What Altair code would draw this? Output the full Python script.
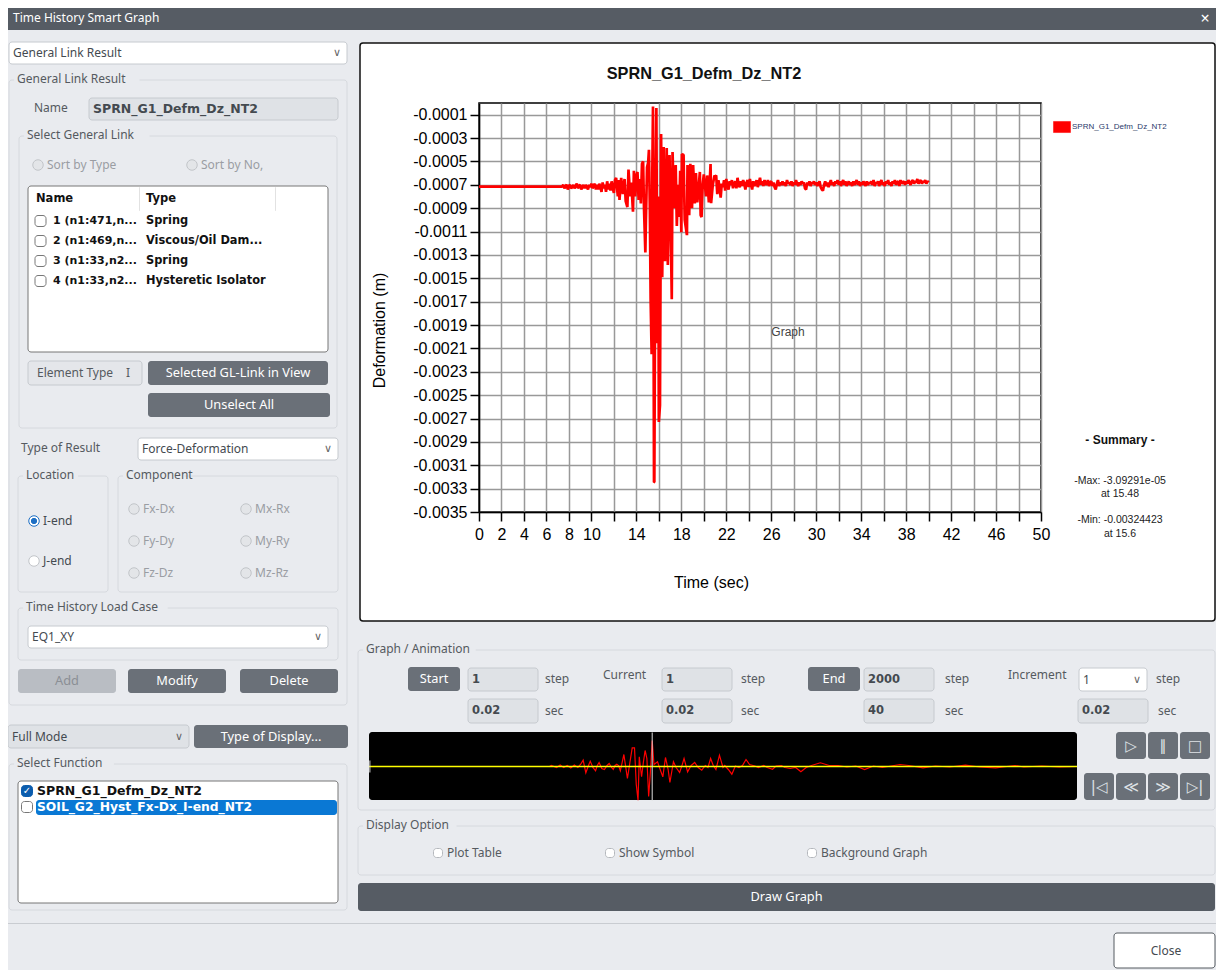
import altair as alt
import pandas as pd

# ---------- chart values ----------
# quiet lead-in, sparse
lead_t = [0, 7.4]
lead_mm = [.715, .715]

# first tremors, read every 0.1 s from 7.5 s
early_mm = [.70, .73, .71, .70, .74, .71, .70, .73, .72, .70,
            .73, .71, .69, .73, .71, .70, .74, .72, .70, .73,
            .70, .72, .74, .70, .72, .69, .73, .71, .69, .74,
            .70, .74, .69, .72, .76, .68, .73, .70, .76, .67,
            .74, .69, .75, .67, .73, .77, .66]

# strong motion, read at each visible spike
mid_t = [12.2, 12.35, 12.45, 12.5,
         12.65, 12.8, 12.95, 13.05, 13.2, 13.3, 13.45, 13.55, 13.7, 13.78, 13.9, 14.0, 14.1, 14.2, 14.3, 14.4,
         14.5, 14.6, 14.68, 14.8, 14.85, 14.95, 15.05, 15.12, 15.2, 15.27, 15.36, 15.42, 15.48, 15.57, 15.6, 15.7,
         15.78, 15.87, 15.95, 16.0, 16.1, 16.2, 16.3, 16.43, 16.55, 16.7, 16.8, 16.95, 17.05, 17.15, 17.22, 17.35,
         17.5, 17.6, 17.7, 17.8, 17.9, 18.0, 18.05, 18.2, 18.3, 18.5, 18.55, 18.7, 18.8, 18.95, 19.05, 19.2,
         19.3, 19.42, 19.5, 19.65, 19.72, 19.8, 19.9, 20.0, 20.2, 20.3, 20.45, 20.6, 20.65, 20.8, 20.95]
mid_mm = [.64, .80, .66, .83,
          .64, .78, .65, .84, .89, .57, .80, .68, .93, .58, .80, .62, .59, .83, .65, .86,
          .52, .50, .90, 1.28, 1.0, .55, .51, .40, .90, 1.68, 2.15, .60, .031, 3.245, 3.244, .80,
          .043, 2.056, .80, 2.73, 2.587, .266, 1.49, .377, 1.353, .385, 1.387, .445, 1.0, 1.679, .42, .90,
          .53, 1.053, .70, .976, .58, 1.105, .437, .445, 1.0, 1.131, .531, .96, .52, .90, .53, .86,
          .60, .85, .78, .59, .96, .976, .70, .61, .80, .62, .85, .522, .857, .70, .62]

# coda, read every 0.1 s from 21 s
late_mm = [.63, .62, .78, .66, .72, .81, .69, .72, .66, .75,
           .65, .71, .74, .67, .70, .66, .73, .69, .67, .73,
           .64, .70, .72, .67, .71, .66, .69, .74, .68, .66,
           .72, .65, .70, .74, .67, .71, .69, .66, .72, .68,
           .64, .70, .67, .71, .66, .69, .70, .66, .71, .68,
           .67, .71, .68, .72, .74, .69, .66, .71, .68, .70,
           .67, .70, .68, .71, .66, .69, .68, .70, .67, .71,
           .68, .70, .66, .69, .71, .68, .70, .67, .69, .68,
           .73, .74, .68, .70, .67, .71, .68, .69, .67, .70,
           .68, .71, .69, .67, .72, .74, .75, .70, .67, .71,
           .68, .72, .69, .66, .70, .68, .71, .67, .69, .66,
           .70, .67, .71, .68, .66, .70, .67, .71, .69, .67,
           .70, .68, .71, .67, .70, .68, .66, .70, .67, .71,
           .68, .70, .67, .69, .71, .67, .70, .68, .69, .67,
           .70, .66, .71, .68, .69, .67, .71, .68, .66, .70,
           .68, .71, .67, .69, .66, .70, .68, .71, .67, .69,
           .66, .70, .68, .67, .71, .66, .69, .68, .67, .70,
           .67, .69, .66, .68, .70, .67, .66, .69, .67, .68,
           .65, .69, .67, .66, .69, .67, .68, .66, .69, .67,
           .68]

early_t = [round(7.5 + 0.1 * i, 1) for i in range(len(early_mm))]
late_t = [round(21 + 0.1 * i, 1) for i in range(len(late_mm))]
time_s = lead_t + early_t + mid_t + late_t
deform_mm = lead_mm + early_mm + mid_mm + late_mm

strip_t = [0, 10.2, 10.3, 10.6, 10.8, 11.0, 11.2, 11.4, 11.6, 11.8,
           11.95, 12.1, 12.25, 12.4, 12.5, 12.65, 12.8, 12.9, 13.0, 13.15,
           13.3, 13.45, 13.57, 13.7, 13.8, 13.9, 14.0, 14.1, 14.2, 14.4,
           14.6, 14.87, 15.0, 15.1, 15.2, 15.27, 15.4, 15.5, 15.6, 15.7,
           15.8, 15.9, 16.0, 16.1, 16.3, 16.45, 16.6, 16.75, 16.9, 17.0,
           17.2, 17.35, 17.55, 17.7, 17.8, 18.0, 18.2, 18.4, 18.6, 18.8,
           19.0, 19.15, 19.3, 19.45, 19.6, 19.8, 20.0, 20.1, 20.3, 20.5,
           20.7, 20.9, 21.1, 21.3, 21.5, 21.8, 22.0, 22.3, 22.5, 22.8,
           23.0, 23.3, 23.5, 23.8, 24.1, 24.4, 24.7, 25.0, 25.5, 26.0,
           26.5, 27.0, 27.5, 28.0, 28.5, 29.0, 29.5, 30.0, 30.5, 31.3,
           32.0, 32.8, 33.7, 34.5, 35.4, 36.5, 37.0, 38.0, 39.0, 40.0]
strip_amp = [0, 0, 1, -1, 1.5, -1, 1, -1.5, 1.5, -1,
             2, 6.3, -6.3, 1, 5.3, -1, -4.3, 1, 4, -2,
             -3, 1, 3, -1, -3, 1, 2.3, 1, -4.3, 12,
             -12, 18.7, 18.7, -18, -33.7, 9.7, -10.3, 4, 16, 8,
             -30, -5, 26, 2, 4.7, -3, -10.3, 9, -3, -16,
             4.7, -1, -6, 2, 8, -5.3, 1, 4, -1, -3.7,
             1, -1, 8, 1, -3, 11.3, -1, 1, -3, -7.7,
             0.5, -1, 1, 7, 2, 0.5, -1, 1, -1, -2.7,
             0.5, 1, -1, -2, -1, -5.3, -1, 1, 3.7, 1,
             1, -.5, .5, -3, .5, -1, .5, 2, 1, -1.3,
             .5, -.5, 1.3, -.5, -1.3, 1, -.5, .5, -.5, 0]

x_ticks = list(range(0, 52, 2))
y_ticks = [-0.0001, -0.0003, -0.0005, -0.0007, -0.0009, -0.0011, -0.0013, -0.0015, -0.0017,
           -0.0019, -0.0021, -0.0023, -0.0025, -0.0027, -0.0029, -0.0031, -0.0033, -0.0035]

SERIES = "SPRN_G1_Defm_Dz_NT2"
PL, PT, PW, PH = 479, 103, 562, 409    # plot box on the page


# ---------- dialog furniture helpers (page pixels) ----------
BG = "#e9ebef"; DARK = "#6a7078"; BAR = "#565c64"; FIELD = "#dfe2e6"; EDGE = "#c6cacf"; GROUP = "#d6d9de"
GREY = "#9a9da3"; INK = "#333333"; BOLD = "DejaVu Sans"
boxes, flat, texts, dots = [], [], [], []
RIGHT = 1215


def box(x0, y0, x1, y1, fill="transparent", stroke="transparent", sw=1.0, store=None):
    (boxes if store is None else store).append(dict(x=x0 - PL, y=y0 - PT, x2=x1 - PL, y2=y1 - PT, f=fill, s=stroke, w=sw))


def text(x, y, t, color=INK, size=12, align="left", weight="normal", font="Noto Sans"):
    texts.append(dict(x=x - PL, y=y - PT, t=t, c=color, z=size, a=align, b=weight, n=font))


def dot(cx, cy, fill="#e3e5e8", stroke="#c2c5c9", area=110):
    dots.append(dict(x=cx - PL, y=cy - PT, f=fill, s=stroke, r=area))


def group(x0, y0, x1, y1, label):
    box(x0, y0, x1, y1, stroke=GROUP)
    box(x0 + 5, y0 - 3, x0 + 9 + len(label) * 6.4, y0 + 3, fill=BG)
    text(x0 + 8, y0 - 1.5, label, "#555a60")


def button(x0, y0, x1, y1, label, fill=DARK, color="white"):
    box(x0, y0, x1, y1, fill=fill)
    text((x0 + x1) / 2, (y0 + y1) / 2, label, color, size=12.8, align="center")


def field(x0, y0, x1, y1, label, size=11.5):
    box(x0, y0, x1, y1, fill=FIELD, stroke=EDGE)
    text(x0 + 4, (y0 + y1) / 2, label, "#444a50", size=size, weight="bold", font=BOLD)


def combo(x0, y0, x1, y1, label, fill="white"):
    box(x0, y0, x1, y1, fill=fill, stroke=EDGE)
    text(x0 + 4, (y0 + y1) / 2, label, "#444a50")
    text(x1 - 10, (y0 + y1) / 2, "∨", "#666666", size=11, align="center", font="DejaVu Sans")


def check(cx, cy, on=False, edge="#777777", half=5.5):
    box(cx - half, cy - half, cx + half, cy + half, fill="#0b5cad" if on else "white", stroke="#0b5cad" if on else edge)
    if on:
        text(cx, cy, "✓", "white", size=10, align="center", weight="bold", font="DejaVu Sans")


# window body around the graph panel (the panel itself stays the page's white)
for r in [(0, 0, 1224, 43), (0, 43, 360, 621), (RIGHT, 43, 1224, 621), (0, 621, 1224, 978)]:
    box(*r, fill=BG, store=flat)
box(0, 0, 1224, 30, fill=BAR, store=flat)
box(0, 923, 1224, 924, fill="#c9ccd1", store=flat)
text(13, 18, "Time History Smart Graph", "white")
text(1205, 19, "×", "white", size=16, align="center")
box(360, 43, RIGHT, 621, stroke="#111111", sw=1.5)

# left column
combo(9, 42, 347, 64, "General Link Result")
group(9, 80, 347, 705, "General Link Result")
text(34, 108, "Name", "#555a60")
field(89, 98, 338, 120, SERIES, size=12.5)
group(19, 136, 337, 428, "Select General Link")
dot(38, 165)
dot(192, 165)
text(47, 165, "Sort by Type", GREY)
text(201, 165, "Sort by No,", GREY)
box(28, 186, 328, 352, fill="white", stroke="#777777")
text(36, 199, "Name", "#111111", size=11.5, weight="bold", font=BOLD)
text(146, 199, "Type", "#111111", size=11.5, weight="bold", font=BOLD)
box(139, 187, 140, 211, fill="#e2e2e2")
box(275, 187, 276, 211, fill="#e2e2e2")
rows = [("1 (n1:471,n...", "Spring"), ("2 (n1:469,n...", "Viscous/Oil Dam..."),
        ("3 (n1:33,n2...", "Spring"), ("4 (n1:33,n2...", "Hysteretic Isolator")]
for i, (a, b) in enumerate(rows):
    y = 221 + 20 * i
    check(40.5, y)
    text(53, y, a, "#111111", size=11, weight="bold", font=BOLD)
    text(146, y, b, "#111111", size=11.4, weight="bold", font=BOLD)
box(28, 361, 142, 385, fill="#e4e6ea", stroke=EDGE)
text(37, 373, "Element Type", "#555a60")
text(126, 373, "I", "#555a60")
button(148, 361, 328, 385, "Selected GL-Link in View")
button(148, 393, 330, 417, "Unselect All")
text(21, 448, "Type of Result", "#555a60")
combo(138, 438, 338, 460, "Force-Deformation")
group(18, 476, 108, 592, "Location")
group(118, 476, 338, 592, "Component")
dot(34, 521, "white", "#1e6fc4")
dot(34, 521, "#1e6fc4", "#1e6fc4", 28)
dot(34, 561, "white", "#c2c5c9")
text(43, 521, "I-end", "#444a50")
text(43, 561, "J-end", "#444a50")
for y, a, b in [(509, "Fx-Dx", "Mx-Rx"), (541, "Fy-Dy", "My-Ry"), (573, "Fz-Dz", "Mz-Rz")]:
    dot(134, y)
    dot(246, y)
    text(143, y, a, GREY)
    text(255, y, b, GREY)
group(18, 608, 338, 660, "Time History Load Case")
combo(28, 626, 328, 648, "EQ1_XY")
button(18, 669, 116, 693, "Add", fill="#b9bdc3", color="#8b8f95")
button(128, 669, 226, 693, "Modify")
button(240, 669, 338, 693, "Delete")
combo(8, 725, 189, 748, "Full Mode", fill=FIELD)
button(194, 725, 348, 748, "Type of Display...")
group(9, 764, 347, 910, "Select Function")
box(18, 781, 338, 903, fill="white", stroke="#777777")
box(36, 800, 337, 815, fill="#0a78d4")
check(27, 791, True)
check(27, 807)
text(37, 791, SERIES, "#111111", size=12.5, weight="bold", font=BOLD)
text(37, 807, "SOIL_G2_Hyst_Fx-Dx_I-end_NT2", "white", size=12.3, weight="bold", font=BOLD)

# animation controls
group(358, 650, RIGHT, 810, "Graph / Animation")
button(408, 667, 460, 691, "Start")
button(808, 667, 860, 691, "End")
text(603, 675, "Current", "#555a60")
text(1008, 675, "Increment", "#555a60")
for x0, a, b, gap in [(468, "1", "0.02", 77), (662, "1", "0.02", 79), (864, "2000", "40", 81)]:
    field(x0, 668, x0 + 70, 691, a)
    field(x0, 699, x0 + 70, 723, b)
    text(x0 + gap, 679, "step", "#555a60")
    text(x0 + gap, 711, "sec", "#555a60")
combo(1079, 668, 1147, 691, "1")
field(1078, 699, 1148, 723, "0.02")
text(1156, 679, "step", "#555a60")
text(1158, 711, "sec", "#555a60")
box(369, 732, 1077, 800, fill="black")
for x0, y0, g in [(1116, 732, "▷"), (1148, 732, "∥"), (1180, 732, "□"), (1084, 773, "|◁"),
                  (1116, 773, "≪"), (1148, 773, "≫"), (1180, 773, "▷|")]:
    box(x0, y0, x0 + 30, y0 + 27, fill=DARK)
    text(x0 + 15, y0 + 13.5, g, "#dfe2e6", size=15, align="center", font="DejaVu Sans")

# display options and footer
group(358, 826, RIGHT, 875, "Display Option")
for cx, lab in [(438, "Plot Table"), (610, "Show Symbol"), (812, "Background Graph")]:
    check(cx, 853, edge="#b5b8bd", half=4.5)
    text(cx + 9, 853, lab, "#555a60")
button(358, 883, RIGHT, 911, "Draw Graph", fill=BAR)
box(1114, 933, RIGHT, 968, fill="white", stroke="#555a60")
text(1166, 950.5, "Close", "#444a50", align="center")

# captions inside the graph panel
A = "Liberation Sans"
text(704, 74, SERIES, "#111111", size=16.3, align="center", weight="bold", font=A)
text(788, 332, "Graph", "#444444", size=12, align="center", font=A)
text(1120, 440, "- Summary -", "#111111", size=12, align="center", weight="bold", font=A)
text(1120, 481, "-Max: -3.09291e-05", "#222222", size=10.5, align="center", font=A)
text(1120, 494, "at 15.48", "#222222", size=10.5, align="center", font=A)
text(1120, 520, "-Min: -0.00324423", "#222222", size=10.5, align="center", font=A)
text(1120, 534, "at 15.6", "#222222", size=10.5, align="center", font=A)


# ---------- layers ----------
def rect_layer(rows, radius):
    return alt.Chart(pd.DataFrame(rows)).mark_rect(cornerRadius=radius).encode(
        x=alt.X("x:Q", scale=None, axis=None), x2="x2:Q",
        y=alt.Y("y:Q", scale=None, axis=None), y2="y2:Q",
        fill=alt.Fill("f:N", scale=None, legend=None),
        stroke=alt.Stroke("s:N", scale=None, legend=None),
        strokeWidth=alt.StrokeWidth("w:Q", scale=None, legend=None),
    )


def dot_layer():
    return alt.Chart(pd.DataFrame(dots)).mark_point(shape="circle", filled=True, opacity=1, strokeWidth=1).encode(
        x=alt.X("x:Q", scale=None, axis=None),
        y=alt.Y("y:Q", scale=None, axis=None),
        fill=alt.Fill("f:N", scale=None, legend=None),
        stroke=alt.Stroke("s:N", scale=None, legend=None),
        size=alt.Size("r:Q", scale=None, legend=None),
    )


def text_layers():
    out = []
    df = pd.DataFrame(texts)
    for (a, b, n), part in df.groupby(["a", "b", "n"]):
        out.append(alt.Chart(part).mark_text(align=a, baseline="middle", fontWeight=b, font=n).encode(
            x=alt.X("x:Q", scale=None, axis=None),
            y=alt.Y("y:Q", scale=None, axis=None),
            text="t:N",
            fill=alt.Fill("c:N", scale=None, legend=None),
            size=alt.Size("z:Q", scale=None, legend=None),
        ))
    return out


main_df = pd.DataFrame({"t": time_s, "v": [-m / 1000 for m in deform_mm], "series": SERIES})
line = alt.Chart(main_df).mark_line(strokeWidth=2.7, strokeJoin="bevel", clip=True).encode(
    x=alt.X("t:Q", scale=alt.Scale(domain=[0, 50], nice=False),
            axis=alt.Axis(values=x_ticks, grid=True, gridColor="#999999", gridWidth=1.5, tickColor="black",
                          tickSize=9, tickWidth=1.5, domainColor="black", domainWidth=1.5,
                          labelColor="black", labelFontSize=16, labelFont=A, labelPadding=5, labelFlush=False,
                          labelOverlap=False,
                          labelExpr="datum.value<=10 || (datum.value-10)%4==0 ? datum.label : ''",
                          title="Time (sec)", titleFont=A, titleFontSize=16, titleFontWeight="normal",
                          titleColor="black", titleX=232, titleY=62)),
    y=alt.Y("v:Q", scale=alt.Scale(domain=[-0.0035, 0], nice=False),
            axis=alt.Axis(values=y_ticks, grid=True, gridColor="#999999", gridWidth=1.5, tickColor="black",
                          tickSize=9, tickWidth=1.5, domainColor="black", domainWidth=1.5,
                          labelColor="black", labelFontSize=16, labelFont=A, labelPadding=3, labelOverlap=False,
                          labelExpr="'-' + format(abs(datum.value), '.4f')",
                          title="Deformation (m)", titleFont=A, titleFontSize=16, titleFontWeight="normal",
                          titleColor="black", titleX=-92, titleY=227)),
    color=alt.Color("series:N", scale=alt.Scale(domain=[SERIES], range=["#ff0000"]),
                    legend=alt.Legend(orient="none", legendX=574, legendY=15, title=None,
                                      symbolType="M-1,-0.65H1V0.65H-1Z", symbolSize=290,
                                      symbolFillColor="#ff0000", symbolStrokeColor="#222222", symbolStrokeWidth=0.5,
                                      labelFont=A, labelFontSize=8, labelColor="#2a3a6a", labelLimit=200,
                                      labelOffset=1)),
)

STRIP_X = alt.Scale(domain=[0, 40], range=[369 - PL, 1077 - PL], nice=False, zero=False)
STRIP_Y = alt.Scale(domain=[-34, 34], range=[800.5 - PT, 732.5 - PT], nice=False, zero=False)
strip_df = pd.DataFrame({"t": strip_t, "a": strip_amp})
strip = alt.Chart(strip_df).mark_line(color="#ff0000", strokeWidth=1.2).encode(
    x=alt.X("t:Q", scale=STRIP_X, axis=None), y=alt.Y("a:Q", scale=STRIP_Y, axis=None))
level = alt.Chart(pd.DataFrame({"t": [0, 40], "a": [0, 0]})).mark_line(color="#ffff00", strokeWidth=1.4).encode(
    x=alt.X("t:Q", scale=STRIP_X, axis=None), y=alt.Y("a:Q", scale=STRIP_Y, axis=None))
cursor = alt.Chart(pd.DataFrame({"t": [16.0, 0.05], "lo": [-34, -6], "hi": [34, 6]})).mark_rule(color="#dddddd", strokeWidth=1).encode(
    x=alt.X("t:Q", scale=STRIP_X, axis=None), y=alt.Y("lo:Q", scale=STRIP_Y, axis=None), y2="hi:Q")

chart = alt.layer(
    rect_layer(flat, 0),
    rect_layer(boxes, 3),
    dot_layer(),
    line,
    strip, level, cursor,
    *text_layers(),
).resolve_scale(
    x="independent", y="independent", color="independent", fill="independent",
    stroke="independent", size="independent", strokeWidth="independent",
).resolve_axis(x="independent", y="independent").properties(
    width=PW, height=PH, background="white",
    padding={"left": PL - 8, "top": PT - 8, "right": 1208 - (PL - 8) - PW, "bottom": 962 - (PT - 8) - PH},
    autosize=alt.AutoSizeParams(type="none"),
).configure_view(stroke="black", strokeWidth=1.5)

chart.save("out.html", embed_options={"renderer": "svg", "actions": False})
